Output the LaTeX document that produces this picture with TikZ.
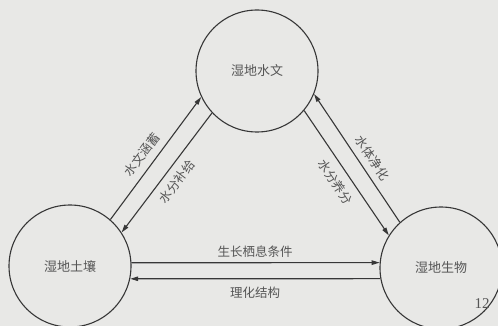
\documentclass[tikz,border=0pt]{standalone}
\usepackage{fontspec}
\setmainfont{Noto Sans CJK SC}
\usetikzlibrary{arrows.meta}
\definecolor{bgc}{RGB}{232,232,230}
\definecolor{linec}{RGB}{55,55,55}
\definecolor{txtc}{RGB}{85,85,85}
\tikzset{
  circnode/.style={circle, draw=linec, line width=1.1pt, minimum size=122pt, inner sep=0pt, font=\fontsize{13}{13}\selectfont, text=txtc},
  conn/.style={draw=linec, line width=1.1pt, -{Triangle[length=8pt,width=4.5pt]}},
  lbl/.style={font=\fontsize{12.5}{12.5}\selectfont, text=txtc, inner sep=0pt}
}
\begin{document}
\begin{tikzpicture}[x=1pt,y=-1pt]
\fill[bgc] (0,0) rectangle (498,326);
\clip (0,0) rectangle (498,326);
\node[circnode] (T) at (257,71) {湿地水文};
\node[circnode] (L) at (70,266) {湿地土壤};
\node[circnode] (R) at (441,268) {湿地生物};
% left pair
\draw[conn] (L.49) -- (T.205);
\draw[conn] (T.223) -- (L.33);
% right pair
\draw[conn] (R.132) -- (T.338);
\draw[conn] (T.320) -- (R.148);
% bottom pair
\draw[conn] (L.3) -- (R.175);
\draw[conn] (R.190) -- (L.-12);
% labels
\node[lbl, rotate=53.3] (l1) at (142,155) {水文涵蓄};
\node[lbl, rotate=53.3] (l2) at (177,182) {水分补给};
\node[lbl, rotate=-56] (l3) at (372,158) {水体净化};
\node[lbl, rotate=-56] (l4) at (335,182) {水分养分};
\node[lbl] (l5) at (255,252) {生长栖息条件};
\node[lbl] (l6) at (255,293) {理化结构};
\node[font=\fontsize{15}{15}\selectfont\rmfamily, text=txtc, inner sep=0pt] (pg) at (482,304) {\fontspec{Liberation Serif}12};
\end{tikzpicture}
\end{document}
